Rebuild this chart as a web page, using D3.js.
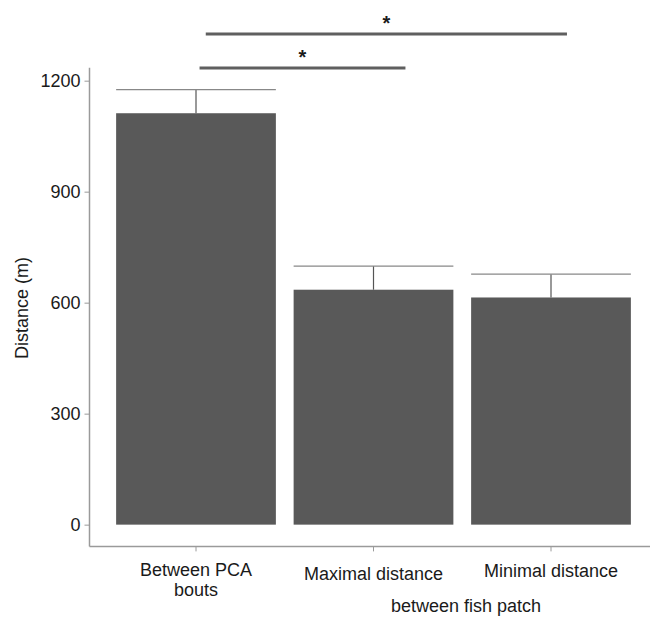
<!DOCTYPE html>
<html>
<head>
<meta charset="utf-8">
<script src="https://cdn.jsdelivr.net/npm/d3@7"></script>
<style>
  body { margin: 0; background: #fff; }
  text { font-family: "Liberation Sans", Arial, sans-serif; fill: #1a1a1a; }
</style>
</head>
<body>
<div id="chart"></div>
<script>
// chart values
var categories = ["Between PCA|bouts", "Maximal distance", "Minimal distance"];
var means = [1112, 635, 614];
var errors = [64, 64, 63];
var yTicks = [0, 300, 600, 900, 1200];
var xTitle = "between fish patch";
var yTitle = "Distance (m)";
// significance bars: from/to in category units, height in data units
var sigFrom = [1.02, 1.055];
var sigTo = [2.18, 3.09];
var sigY = [1234, 1326];
var sigLabels = ["*", "*"];

var width = 650, height = 617;
var fontSize = "18px";

var svg = d3.select("#chart")
  .append("svg")
  .attr("width", width)
  .attr("height", height);

// ggplot-like expansion
var yMax = d3.max(means.map((m, i) => m + errors[i]));
var yScale = d3.scaleLinear()
  .domain([-0.05 * yMax, 1.05 * yMax])
  .range([546.4, 67.8]);

var xScale = d3.scaleBand()
  .domain(categories)
  .range([89.5, 89.5 + 177.5 * 3.2])
  .paddingInner(0.1)
  .paddingOuter(0.15);

var step = xScale.step();
var center = c => xScale(c) + xScale.bandwidth() / 2;
var catPos = v => center(categories[0]) + (v - 1) * step;

// bars
svg.append("g")
  .selectAll("rect")
  .data(categories)
  .enter()
  .append("rect")
  .attr("x", d => xScale(d))
  .attr("y", (d, i) => yScale(means[i]))
  .attr("width", xScale.bandwidth())
  .attr("height", (d, i) => yScale(0) - yScale(means[i]))
  .attr("fill", "#595959");

// error bars
var eb = svg.append("g").attr("stroke", "#555").attr("stroke-width", 1.2);
categories.forEach(function(c, i) {
  eb.append("line")
    .attr("x1", center(c)).attr("x2", center(c))
    .attr("y1", yScale(means[i])).attr("y2", yScale(means[i] + errors[i]));
  eb.append("line")
    .attr("x1", xScale(c)).attr("x2", xScale(c) + xScale.bandwidth())
    .attr("y1", yScale(means[i] + errors[i])).attr("y2", yScale(means[i] + errors[i]))
    .attr("stroke", "#888");
});

// y axis
var yAxis = d3.axisLeft(yScale).tickValues(yTicks).tickSize(5).tickPadding(4)
  .tickFormat(d3.format("d"));
var gy = svg.append("g")
  .attr("transform", "translate(89.5,0)")
  .call(yAxis);
gy.select(".domain").attr("stroke", "#9a9a9a").attr("stroke-width", 1.5)
  .attr("d", `M0,${yScale.range()[1]}V${yScale.range()[0]}`);
gy.selectAll(".tick line").attr("stroke", "#9a9a9a");
gy.selectAll(".tick text")
  .attr("font-size", fontSize)
  .attr("font-family", "Liberation Sans, Arial, sans-serif")
  .attr("fill", "#1a1a1a");

// x axis
var gx = svg.append("g")
  .attr("transform", `translate(0,${yScale.range()[0]})`)
  .call(d3.axisBottom(xScale).tickSize(5).tickFormat(""));
gx.select(".domain").attr("stroke", "#9a9a9a").attr("stroke-width", 1.5)
  .attr("d", `M89.5,0H${width}`);
gx.selectAll(".tick line").attr("stroke", "#9a9a9a");

// x tick labels (multi-line)
var labelDy = [29.5, 34, 31];
categories.forEach(function(c, i) {
  var t = svg.append("text")
    .attr("text-anchor", "middle")
    .attr("font-size", fontSize)
    .attr("x", center(c))
    .attr("y", yScale.range()[0] + labelDy[i]);
  c.split("|").forEach(function(line, j) {
    t.append("tspan")
      .attr("x", center(c))
      .attr("dy", j === 0 ? 0 : 20.5)
      .text(line);
  });
});

// axis titles
svg.append("text")
  .attr("text-anchor", "middle")
  .attr("font-size", fontSize)
  .attr("x", 466)
  .attr("y", 612)
  .text(xTitle);

svg.append("text")
  .attr("text-anchor", "middle")
  .attr("font-size", fontSize)
  .attr("transform", "translate(28,308) rotate(-90)")
  .text(yTitle);

// significance bars
var sig = svg.append("g");
sigFrom.forEach(function(f, i) {
  sig.append("line")
    .attr("x1", catPos(f)).attr("x2", catPos(sigTo[i]))
    .attr("y1", yScale(sigY[i])).attr("y2", yScale(sigY[i]))
    .attr("stroke", "#5f5f5f")
    .attr("stroke-width", 3);
  sig.append("text")
    .attr("text-anchor", "middle")
    .attr("font-size", "20px")
    .attr("font-weight", "bold")
    .attr("x", (catPos(f) + catPos(sigTo[i])) / 2)
    .attr("y", yScale(sigY[i]) - 4)
    .text(sigLabels[i]);
});
</script>
</body>
</html>
